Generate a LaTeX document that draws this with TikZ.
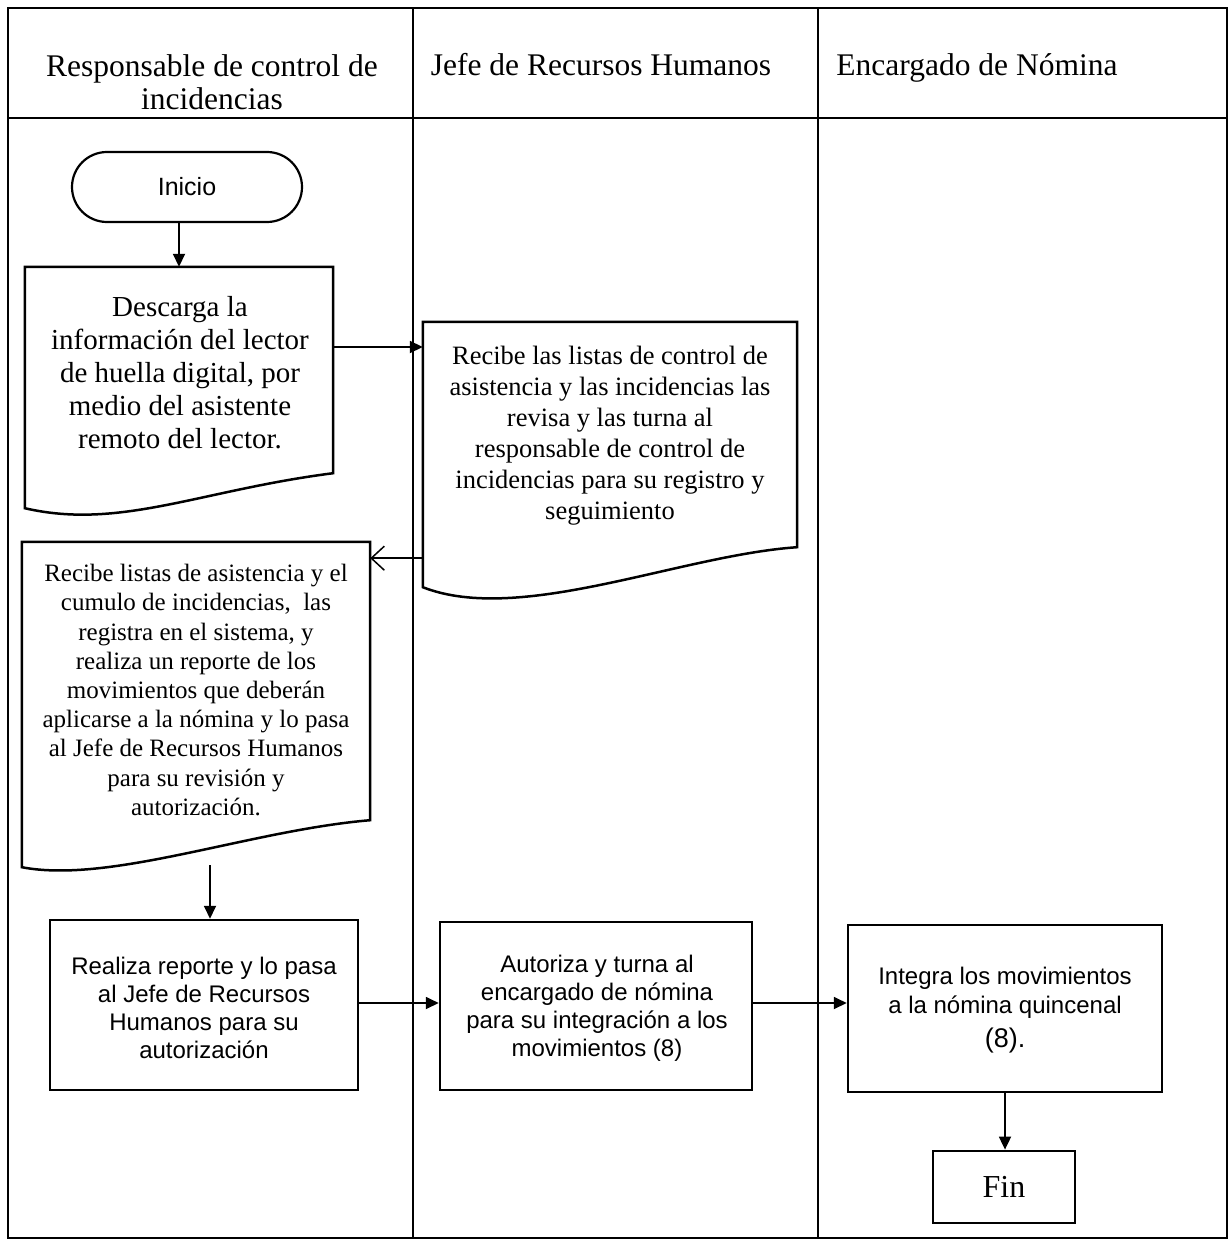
\documentclass[tikz,border=0pt]{standalone}
\usepackage{fontspec}
\setmainfont{Liberation Serif}
\setsansfont{Liberation Sans}
\usetikzlibrary{shapes.misc,arrows.meta,calc}
\begin{document}
\begin{tikzpicture}[x=1pt,y=-1pt,
  region/.style={draw=none,rectangle,inner sep=0pt},
  txt/.style={align=center,inner sep=0pt},
  outline/.style={line width=2.5pt},
  arr/.style={line width=1.8pt,-{Triangle[length=13pt,width=12pt]}},
  oarr/.style={line width=1.5pt,-{Straight Barb[length=13pt,width=24pt,line width=1.5pt]}},
  hdr/.style={txt,font=\fontsize{31.5}{33}\selectfont},
  seriftxt/.style={txt},
  sanstxt/.style={txt,font=\sffamily\fontsize{24}{28}\selectfont}
]
\useasboundingbox (0,0) rectangle (1229,1244);
\fill[white] (0,0) rectangle (1229,1244);
% frame and lanes
\draw[line width=2.5pt] (8,8) rectangle (1227,1238);
\coordinate (l1t) at (413,8); \coordinate (l1b) at (413,1238);
\coordinate (l2t) at (818,8); \coordinate (l2b) at (818,1238);
\coordinate (hl) at (8,118); \coordinate (hr) at (1227,118);
\draw[line width=2.5pt] (l1t) -- (l1b);
\draw[line width=2.5pt] (l2t) -- (l2b);
\draw[line width=2.5pt] (hl) -- (hr);
% headers
\node[hdr] (h1) at (212,82) {Responsable de control de\\incidencias};
\node[hdr,anchor=base] (h2) at (601,76) {Jefe de Recursos Humanos};
\node[hdr,anchor=base] (h3) at (977,76) {Encargado de Nómina};
% Inicio
\node[rounded rectangle,draw,line width=2.2pt,minimum width=230pt,minimum height=70pt,inner sep=0pt,
      font=\sffamily\fontsize{25}{28}\selectfont] (ini) at (187,187) {Inicio};
% Descarga document
\node[region,minimum width=308pt,minimum height=206pt] (d1) at (179,370) {};
\draw[outline] (d1.north west) -- (d1.north east) -- (d1.south east)
  .. controls +(-133,17) and +(95,22) .. ([yshift=-35pt]d1.south west) -- cycle;
\node[seriftxt,font=\fontsize{29}{33}\selectfont] (d1t) at (180,373)
  {Descarga la\\información del lector\\de huella digital, por\\medio del asistente\\remoto del lector.};
% Recibe (JRH) document
\node[region,minimum width=374pt,minimum height=225pt] (r1) at (610,434.5) {};
\draw[outline] (r1.north west) -- (r1.north east) -- (r1.south east)
  .. controls +(-117,8) and +(97,38) .. ([yshift=-40pt]r1.south west) -- cycle;
\node[seriftxt,font=\fontsize{26.5}{31}\selectfont] (r1t) at (610,436)
  {Recibe las listas de control de\\asistencia y las incidencias las\\revisa y las turna al\\responsable de control de\\incidencias para su registro y\\seguimiento};
% Recibe listas document
\node[region,minimum width=348pt,minimum height=278pt] (rl) at (196,681) {};
\draw[outline] (rl.north west) -- (rl.north east) -- (rl.south east)
  .. controls +(-120,10) and +(88,17) .. ([yshift=-47pt]rl.south west) -- cycle;
\node[seriftxt,font=\fontsize{25}{29.2}\selectfont] (rlt) at (196,690)
  {Recibe listas de asistencia y el\\cumulo de incidencias,\ \ las\\registra en el sistema, y\\realiza un reporte de los\\movimientos que deberán\\aplicarse a la nómina y lo pasa\\al Jefe de Recursos Humanos\\para su revisión y\\autorización.};
\coordinate (rlb) at (210,865);
% Process boxes
\node[draw,outline,rectangle,minimum width=308pt,minimum height=170pt,inner sep=0pt] (re) at (204,1005) {};
\node[sanstxt] (ret) at (204,1008) {Realiza reporte y lo pasa\\al Jefe de Recursos\\Humanos para su\\autorización};
\node[draw,outline,rectangle,minimum width=312pt,minimum height=168pt,inner sep=0pt] (au) at (596,1006) {};
\node[sanstxt] (aut) at (597,1008) {Autoriza y turna al\\encargado de nómina\\para su integración a los\\movimientos (8)};
\node[draw,outline,rectangle,minimum width=314pt,minimum height=167pt,inner sep=0pt] (in) at (1005,1008.5) {};
\node[sanstxt,font=\sffamily\fontsize{24}{29}\selectfont] (int) at (1005,1010)
  {Integra los movimientos\\a la nómina quincenal\\[5pt]{\fontsize{27}{30}\selectfont(8).}};
\node[draw,line width=2.8pt,rectangle,minimum width=142pt,minimum height=72pt,inner sep=0pt,
      font=\fontsize{32}{34}\selectfont] (fin) at (1004,1187) {Fin};
% connectors
\draw[arr] (ini.south -| d1.north) -- (d1.north);
\draw[arr] ([yshift=23pt]d1.east) -- ([yshift=23pt]d1.east -| r1.west);
\draw[oarr] ([yshift=-11pt]r1.south west) -- ([yshift=-11pt]r1.south west -| rl.east);
\draw[arr] (rlb) -- (rlb |- re.north);
\draw[arr] ([yshift=2pt]re.east) -- ([yshift=2pt]re.east -| au.west);
\draw[arr] ([yshift=3pt]au.east) -- ([yshift=3pt]au.east -| in.west);
\draw[arr] (in.south) -- (in.south |- fin.north);
\end{tikzpicture}
\end{document}
